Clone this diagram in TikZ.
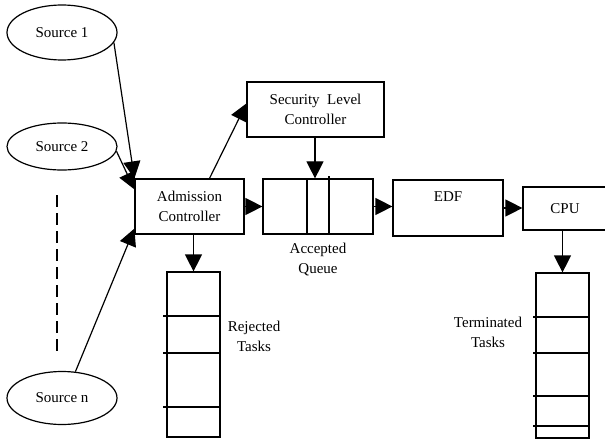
\documentclass[tikz,border=0pt]{standalone}
\usepackage{fontspec}
\setmainfont{Liberation Serif}
\usetikzlibrary{arrows.meta, shapes.geometric, positioning}

\begin{document}
\begin{tikzpicture}[
    x=1pt, y=-1pt,
    font=\fontsize{15}{20}\selectfont,
    every node/.style={line width=1.2pt},
    source/.style={draw, ellipse, minimum width=110pt, inner sep=0pt},
    block/.style={draw, rectangle, inner sep=0pt, align=center},
    stack/.style={draw, rectangle, minimum width=53pt, minimum height=165pt, inner sep=0pt},
    lbl/.style={align=center, inner sep=0pt},
    arr/.style={-{Triangle[length=17pt, width=17pt]}, line width=1.2pt}
  ]
  \useasboundingbox (0,0) rectangle (605,441);

  % sources
  \node[source, minimum height=55pt] (src1) at (62,32.5) {Source 1};
  \node[source, minimum height=47pt] (src2) at (62,146.5) {Source 2};
  \node[source, minimum height=53pt] (srcn) at (62,398) {Source n};
  \coordinate (dtop) at (57,195);
  \coordinate (dbot) at (57,353);
  \draw[line width=1.2pt, dash pattern=on 12pt off 6pt] (dtop) -- (dbot);

  % controllers and queue
  \node[block, minimum width=109pt, minimum height=55pt] (adm) at (189.5,206.5) {Admission\\Controller};
  \node[block, minimum width=137pt, minimum height=55pt] (sec) at (315.5,109.5) {Security\ \ Level\\Controller};
  \node[block, minimum width=110pt, minimum height=55pt] (queue) at (318,206.5) {};
  \draw[line width=1.2pt] ([xshift=-11pt]queue.south) -- ([xshift=-11pt]queue.north);
  \draw[line width=1.2pt] ([xshift=11pt]queue.south) -- ([xshift=11pt,yshift=2pt]queue.north);
  \node[lbl, below=8pt of queue] (acclbl) {Accepted\\Queue};
  \node[block, minimum width=110pt, minimum height=56pt] (edf) at (448,208) {};
  \node[lbl, below=12pt of edf.north] (edflbl) {EDF};
  \node[block, minimum width=84pt, minimum height=43pt] (cpu) at (565,208.5) {CPU};

  % task stacks
  \node[stack] (rej) at (193.5,354.5) {};
  \foreach \y in {316,353,407}
    \draw[line width=1.2pt] (163,\y) -- (rej.east |- 0,\y);
  \node[lbl] (rejlbl) at (254,336) {Rejected\\Tasks};
  \node[stack] (term) at (562.5,355.5) {};
  \foreach \y in {317,353,396,426}
    \draw[line width=1.2pt] (533,\y) -- (term.east |- 0,\y);
  \node[lbl] (termlbl) at (488,332) {Terminated\\Tasks};

  % connectors
  \draw[arr] (src1.-11) -- (adm.north west);
  \draw[arr] (src2.-5) -- ([yshift=-11pt]adm.north west);
  \draw[arr] (srcn.63) -- ([yshift=6pt]adm.south west);
  \draw[arr] ([xshift=20pt]adm.north) -- ([yshift=6pt]sec.west);
  \draw[arr] (adm) -- (queue);
  \draw[arr] (sec.south -| 315,0) -- (queue.north -| 315,0);
  \draw[arr] (queue.east) -- (queue.east -| edf.west);
  \draw[arr] (edf.east) -- (edf.east -| cpu.west);
  \draw[arr] (rej.north |- adm.south) -- (rej.north);
  \draw[arr] (term.north |- cpu.south) -- (term.north);
\end{tikzpicture}
\end{document}
